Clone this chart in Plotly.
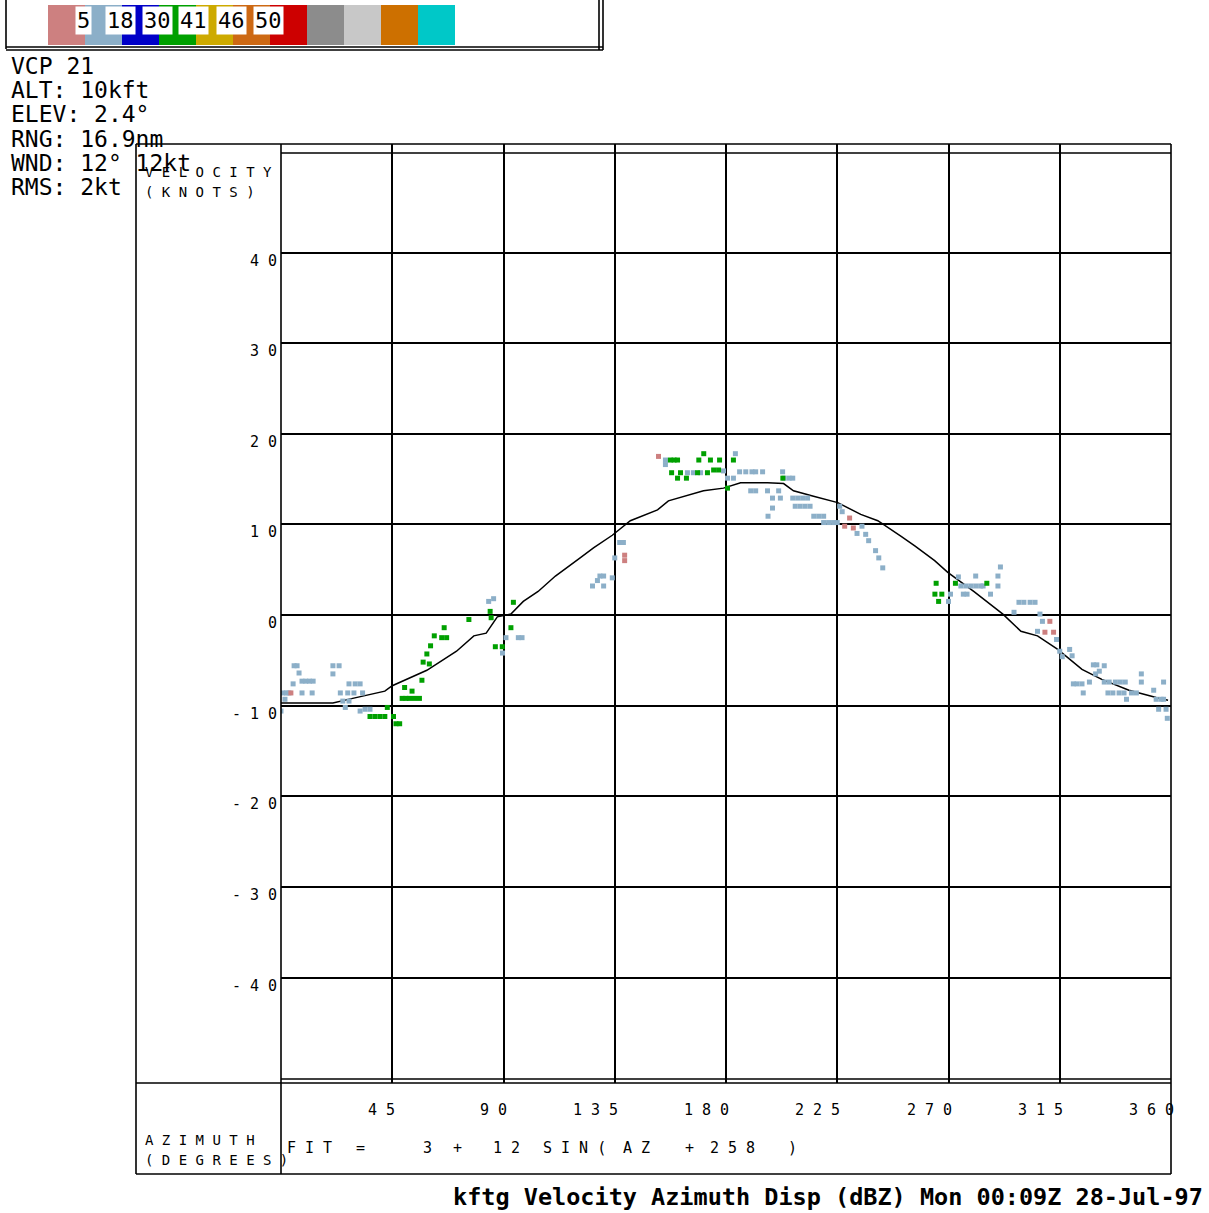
import plotly.graph_objects as go

W, H = 1209, 1213

# fitted curve (azimuth deg, velocity kt)
fit_az = [0, 21, 29, 42, 45, 59, 71, 78, 83, 87.5, 93, 98, 104, 111, 121, 126.4, 134, 141.3,
          152.3, 156.7, 170.9, 179, 185.9, 196.8, 203.3, 207.3, 215.4, 225.2, 234.5, 241.4,
          250.7, 256.5, 264.4, 269.7, 280.2, 292, 299.3, 306, 314.2, 324, 332, 343, 354, 358.8]
fit_v = [-9.7, -9.7, -9.2, -8.4, -7.8, -6.1, -4.0, -2.3, -2.0, -0.2, 0.1, 1.5, 2.6, 4.3, 6.3, 7.4,
         8.8, 10.4, 11.6, 12.6, 13.7, 14.0, 14.6, 14.6, 14.5, 13.7, 13.1, 12.4, 11.1, 10.4,
         8.7, 7.6, 6.0, 4.7, 2.6, 0.1, -1.8, -2.3, -3.8, -6.0, -7.1, -8.3, -9.1, -9.4]

# velocity samples, light blue (5-18 dBZ)
blue_az = [5.3, 6.5, 7.3, 4.9, 8.5, 10, 11.5, 13, 0.8, 2.2, 3.2, 8.5, 12.6, 1.6, 0, 21, 23.5, 21,
           24, 27.5, 30, 32, 27, 29.5, 33, 25, 27.5, 26, 32, 34, 36,
           84, 86, 91, 96, 97.5, 89.6,
           126, 128, 129, 130.5, 130.5, 134, 135, 137, 138.5,
           155.5, 155.5, 183.8, 164.4, 166.8, 169.7, 179, 180.6, 183, 185.5, 188, 190.5, 192,
           194.8, 190, 192, 196.8, 201.3, 198.8, 202, 198.8, 197, 202.9, 203.5, 205.5, 207,
           207, 209, 211, 213, 208, 210, 212, 214, 215.5, 217.5, 219.5, 219.5, 221.5, 223.5,
           225, 226, 227, 233, 235, 236.5, 237.7, 240.5, 241.8, 243.4,
           270.8, 270, 274, 275, 277, 279, 281, 283, 284, 281, 276, 277.5, 287, 290, 290, 291,
           298.5, 300.5, 303, 305, 296.5, 307, 308, 306, 313.7, 315, 316, 319, 320, 328.6,
           330, 331, 329.5, 333, 320.5, 322, 324, 327, 324.5, 333, 335, 337.5, 339.5, 341.5,
           334.5, 336.5, 339, 341, 342, 344, 346, 348, 348, 353, 357, 354, 356, 357, 355, 358,
           358.5]
blue_v = [-5.6, -5.6, -6.4, -7.6, -7.3, -7.3, -7.3, -7.3, -8.6, -8.6, -8.6, -8.6, -8.6, -9.3,
          -10.6, -5.6, -5.6, -6.5, -8.6, -7.6, -7.6, -7.6, -8.6, -8.6, -8.6, -9.5, -9.5, -10.2,
          -10.6, -10.4, -10.4,
          1.5, 1.8, -2.5, -2.5, -2.5, -4.2,
          3.2, 3.8, 4.3, 4.3, 3.2, 4.1, 6.3, 8.0, 8.0,
          17.1, 16.6, 17.8, 15.7, 15.7, 15.7, 15.9, 15.1, 15.1, 15.8, 15.8, 15.8, 15.8,
          15.8, 13.7, 13.7, 13.7, 13.7, 12.9, 12.9, 11.8, 10.9, 15.8, 15.1, 15.1, 15.1,
          12.9, 12.9, 12.9, 12.9, 12.0, 12.0, 12.0, 12.0, 10.9, 10.9, 10.9, 10.2, 10.2, 10.2,
          10.2, 12.0, 11.4, 9.0, 9.8, 8.9, 8.2, 7.1, 6.3, 5.2,
          2.3, 1.5, 4.2, 3.2, 3.2, 3.2, 3.2, 3.2, 3.2, 4.3, 2.3, 2.3, 2.3, 4.3, 3.2, 5.3,
          1.4, 1.4, 1.4, 1.4, 0.3, 0.1, -0.7, -1.8, -2.7, -4.0, -4.6, -3.8, -4.5, -5.5,
          -5.5, -6.2, -6.5, -5.6, -7.6, -7.6, -7.6, -7.4, -8.6, -7.4, -7.4, -7.4, -7.4, -7.4,
          -8.6, -8.6, -8.6, -8.6, -9.3, -8.6, -8.6, -6.5, -7.4, -8.3, -7.4, -9.3, -9.3, -9.3,
          -10.4, -10.4, -11.4]

# velocity samples, green (30-41 dBZ)
green_az = [43, 36, 38, 40, 42, 45.5, 46.5, 48, 50, 53, 49, 50.5, 52, 54, 56, 57, 60, 57.5, 59,
            60.5, 62, 65, 67, 66, 76, 84.6, 85, 94, 93, 86.7, 89.5,
            157.5, 159, 160.4, 169, 171, 173.7, 177.4, 183, 158, 161.6, 160.4, 164, 168.5,
            172.5, 175, 177, 180.6, 203,
            265, 264.5, 267.3, 266, 272.8, 285.5]
green_v = [-10.2, -11.2, -11.2, -11.2, -11.2, -11.2, -12, -12, -8, -8.4, -9.2, -9.2, -9.2, -9.2,
           -9.2, -7.2, -5.4, -5.2, -4.3, -3.4, -2.3, -2.5, -2.5, -1.4, -0.5, 0.4, -0.3, 1.4,
           -1.4, -3.5, -3.5,
           17.1, 17.1, 17.1, 17.1, 17.8, 17.1, 17.1, 17.1, 15.7, 15.7, 15.1, 15.1, 15.7,
           15.7, 16.0, 16.0, 14.0, 15.1,
           3.5, 2.3, 2.3, 1.5, 3.5, 3.5]

# velocity samples, pink (< 5 dBZ)
pink_az = [4, 152.7, 139, 139, 230, 228, 231.5, 311, 309, 312.5]
pink_v = [-8.6, 17.5, 6.6, 6.0, 10.7, 9.8, 9.6, -0.7, -1.9, -1.9]

y_ticks = [40, 30, 20, 10, 0, -10, -20, -30, -40]
x_ticks = [45, 90, 135, 180, 225, 270, 315, 360]

info_lines = ["VCP 21", "ALT: 10kft", "ELEV: 2.4°", "RNG: 16.9nm", "WND: 12° 12kt", "RMS: 2kt"]
dbz_levels = ["5", "18", "30", "41", "46", "50"]
dbz_colors = ["#cd8080", "#8cafc8", "#0000c8", "#00a000", "#cdaa00", "#cd6914",
              "#cd0000", "#8c8c8c", "#c8c8c8", "#cd7000", "#00c8c8"]
fit_tokens = ["FIT", "=", "3", "+", "12", "SIN(", "AZ", "+", "258", ")"]
title = "kftg Velocity Azimuth Disp (dBZ) Mon 00:09Z 28-Jul-97"

MONO = "DejaVu Sans Mono"


def px(x):
    return x / W


def py(y):
    return 1 - y / H


def spaced(s):
    return " ".join(s)


fig = go.Figure()

fig.add_trace(go.Scatter(x=fit_az, y=fit_v, mode="lines",
                         line=dict(color="black", width=1.5)))
for az, v, col in [(blue_az, blue_v, "#8cafc8"), (green_az, green_v, "#00a000"),
                   (pink_az, pink_v, "#cd8080")]:
    fig.add_trace(go.Scatter(x=az, y=v, mode="markers",
                             marker=dict(symbol="square", size=5, color=col, line_width=0)))

shapes = []


def line(x0, y0, x1, y1, w=1.6):
    shapes.append(dict(type="line", xref="paper", yref="paper",
                       x0=px(x0), y0=py(y0), x1=px(x1), y1=py(y1),
                       line=dict(color="black", width=w)))


# plot frame
line(136, 144, 1171, 144)
line(136, 1174, 1171, 1174)
line(136, 144, 136, 1174)
line(1171, 144, 1171, 1174)
line(281, 144, 281, 1174)
line(281, 153, 1171, 153)
line(281, 1079, 1171, 1079)
line(136, 1083, 1171, 1083)

# colour key box
line(6, 0, 6, 49)
line(6, 47, 603, 47)
line(6, 50, 603, 50)
line(599, 0, 599, 50)
line(603, 0, 603, 50)
sw = 37
for i, c in enumerate(dbz_colors):
    shapes.append(dict(type="rect", xref="paper", yref="paper",
                       x0=px(48 + i * sw), x1=px(48 + (i + 1) * sw), y0=py(45), y1=py(5),
                       fillcolor=c, line_width=0, layer="below"))

ann = []


def text(x, y, t, size, xanchor="left", xref="paper", yref="paper", **kw):
    ann.append(dict(xref=xref, yref=yref, x=x, y=y, text=t, xanchor=xanchor,
                    yanchor="middle", showarrow=False,
                    font=dict(family=MONO, size=size, color="black"), **kw))


for i, lab in enumerate(dbz_levels):
    text(px(48 + (i + 1) * sw - 2), py(21), lab, 22, xanchor="center",
         bgcolor="white", borderpad=1)

for i, t in enumerate(info_lines):
    text(px(9), py(66 + 24.2 * i), t, 23)

for v in y_ticks:
    text(px(279), v, spaced(str(v)), 15, xanchor="right", yref="y", yshift=-8)
for a in x_ticks:
    text(a, py(1110), spaced(str(a)), 15, xanchor="right", xref="x", xshift=5)

for t, y in [("VELOCITY", 172), ("(KNOTS)", 192), ("AZIMUTH", 1140), ("(DEGREES)", 1160)]:
    text(px(143), py(y), spaced(t), 14)

fit_x = [285, 354, 421, 451, 491, 541, 621, 683, 708, 786]
for t, x in zip(fit_tokens, fit_x):
    text(px(x), py(1148), spaced(t), 15)

text(px(1205), py(1197), "<b>" + title + "</b>", 23.5, xanchor="right")

v_top = (615 - 144) / 9.0625
v_bot = (615 - 1083) / 9.0625

fig.update_layout(
    width=W, height=H, autosize=False,
    margin=dict(l=0, r=0, t=0, b=0),
    paper_bgcolor="white", plot_bgcolor="white",
    showlegend=False,
    shapes=shapes, annotations=ann,
    xaxis=dict(domain=[px(281), px(1171)], range=[0, 360], tickvals=x_ticks,
               showticklabels=False, ticks="", showgrid=True, gridcolor="black",
               gridwidth=1.6, zeroline=False, showline=False, fixedrange=True),
    yaxis=dict(domain=[py(1083), py(144)], range=[v_bot, v_top], tickvals=y_ticks,
               showticklabels=False, ticks="", showgrid=True, gridcolor="black",
               gridwidth=1.6, zeroline=False, showline=False, fixedrange=True),
)

fig.write_html("out.html", config={"displayModeBar": False},
               post_script="document.body.style.margin='0';document.body.style.overflow='hidden';")
